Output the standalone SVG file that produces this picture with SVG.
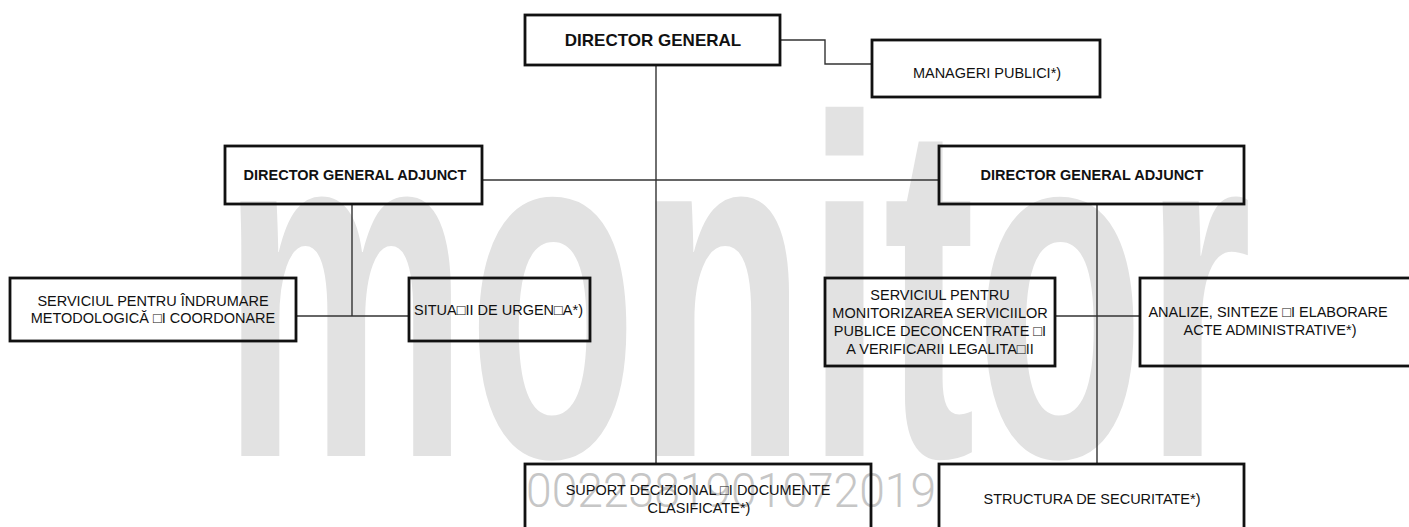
<svg xmlns="http://www.w3.org/2000/svg" width="1409" height="527" viewBox="0 0 1409 527">
<style>
.box{fill:none;stroke:#111;stroke-width:2.8}
.con{fill:none;stroke:#333;stroke-width:1.4}
.t{font-family:"Liberation Sans",Arial,sans-serif;font-size:14.5px;fill:#111;text-anchor:middle}
.b{font-weight:bold;font-size:14.5px}
.wm{font-family:"Liberation Sans",Arial,sans-serif;font-weight:bold;fill:#e2e2e2}
.num{font-family:Roboto,"Liberation Sans",sans-serif;font-weight:300;font-size:48px;fill:#c6c6c6}
</style>
<rect width="1409" height="527" fill="#fff"/>
<g id="watermark">
<text class="wm" x="0" y="0" font-size="277" transform="translate(222,456) scale(1,1.74)" textLength="1030" lengthAdjust="spacingAndGlyphs">monitor</text>
<text class="num" x="526" y="507" textLength="410" lengthAdjust="spacingAndGlyphs">0022381901072019</text>
</g>
<g id="connectors">
<polyline class="con" points="780,40 825,40 825,64 872,64"/>
<line class="con" x1="656" y1="65" x2="656" y2="464"/>
<line class="con" x1="482" y1="180" x2="939" y2="180"/>
<line class="con" x1="352" y1="204" x2="352" y2="316"/>
<line class="con" x1="296" y1="316" x2="409" y2="316"/>
<line class="con" x1="1097" y1="204" x2="1097" y2="464"/>
<line class="con" x1="1055" y1="316" x2="1140" y2="316"/>
</g>
<g id="director-general">
<rect class="box" x="525" y="15" width="255" height="50"/>
<text class="t b" x="653" y="46" style="font-size:17px">DIRECTOR GENERAL</text>
</g>
<g id="manageri-publici">
<rect class="box" x="872" y="40" width="228" height="57"/>
<text class="t" x="987" y="78">MANAGERI PUBLICI*)</text>
</g>
<g id="dga-left">
<rect class="box" x="225" y="146" width="257" height="58"/>
<text class="t b" x="355" y="180">DIRECTOR GENERAL ADJUNCT</text>
</g>
<g id="dga-right">
<rect class="box" x="939" y="146" width="305" height="58"/>
<text class="t b" x="1092" y="180">DIRECTOR GENERAL ADJUNCT</text>
</g>
<g id="serviciul-indrumare">
<rect class="box" x="10" y="278" width="286" height="63"/>
<text class="t" x="153" y="306">SERVICIUL PENTRU ÎNDRUMARE</text>
<text class="t" x="153" y="323">METODOLOGICĂ □I COORDONARE</text>
</g>
<g id="situatii-urgenta">
<rect class="box" x="409" y="278" width="181" height="63"/>
<text class="t" x="414" y="315" style="text-anchor:start">SITUA□II DE URGEN□A*)</text>
</g>
<g id="serviciul-monitorizare">
<rect class="box" x="825" y="278" width="230" height="88"/>
<text class="t" x="940" y="300">SERVICIUL PENTRU</text>
<text class="t" x="940" y="318">MONITORIZAREA SERVICIILOR</text>
<text class="t" x="940" y="336">PUBLICE DECONCENTRATE □I</text>
<text class="t" x="940" y="354">A VERIFICARII LEGALITA□II</text>
</g>
<g id="analize-sinteze">
<rect class="box" x="1140" y="278" width="290" height="88"/>
<text class="t" x="1268" y="317">ANALIZE, SINTEZE □I ELABORARE</text>
<text class="t" x="1270" y="335">ACTE ADMINISTRATIVE*)</text>
</g>
<g id="suport-decizional">
<rect class="box" x="525" y="464" width="346" height="80"/>
<text class="t" x="698" y="495">SUPORT DECIZIONAL □I DOCUMENTE</text>
<text class="t" x="699" y="513">CLASIFICATE*)</text>
</g>
<g id="structura-securitate">
<rect class="box" x="939" y="464" width="305" height="80"/>
<text class="t" x="1092" y="504">STRUCTURA DE SECURITATE*)</text>
</g>
</svg>
